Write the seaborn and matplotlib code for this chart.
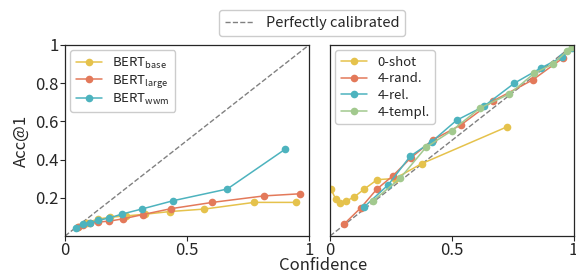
import numpy as np
import pandas as pd
import matplotlib
matplotlib.use("Agg")
import matplotlib.pyplot as plt
from matplotlib.ticker import FuncFormatter
import seaborn as sns

# left panel: model size
base_conf = [0.055, 0.089, 0.137, 0.184, 0.25, 0.328, 0.43, 0.571, 0.775, 0.947]
base_acc = [0.048, 0.07, 0.089, 0.098, 0.105, 0.114, 0.128, 0.141, 0.176, 0.176]
large_conf = [0.055, 0.075, 0.102, 0.137, 0.182, 0.239, 0.318, 0.434, 0.604, 0.816, 0.963]
large_acc = [0.045, 0.058, 0.066, 0.073, 0.078, 0.09, 0.112, 0.143, 0.176, 0.21, 0.221]
wwm_conf = [0.045, 0.072, 0.102, 0.137, 0.18, 0.234, 0.314, 0.444, 0.665, 0.903]
wwm_acc = [0.04, 0.062, 0.07, 0.082, 0.094, 0.115, 0.141, 0.185, 0.246, 0.455]

# right panel: few-shot setting
shot0_conf = [0.004, 0.023, 0.041, 0.066, 0.099, 0.141, 0.194, 0.267, 0.377, 0.726]
shot0_acc = [0.245, 0.195, 0.174, 0.183, 0.204, 0.246, 0.295, 0.301, 0.379, 0.571]
rand_conf = [0.059, 0.127, 0.192, 0.257, 0.333, 0.422, 0.537, 0.67, 0.832, 0.958]
rand_acc = [0.064, 0.148, 0.245, 0.314, 0.41, 0.503, 0.581, 0.707, 0.817, 0.933]
rel_conf = [0.141, 0.24, 0.329, 0.418, 0.52, 0.632, 0.757, 0.867, 0.952, 0.993]
rel_acc = [0.153, 0.269, 0.417, 0.494, 0.606, 0.679, 0.8, 0.88, 0.936, 0.984]
templ_conf = [0.175, 0.288, 0.394, 0.5, 0.616, 0.736, 0.839, 0.917, 0.972, 0.995]
templ_acc = [0.182, 0.302, 0.464, 0.551, 0.67, 0.743, 0.852, 0.901, 0.967, 0.988]

left_labels = [r"BERT$_{\mathrm{base}}$", r"BERT$_{\mathrm{large}}$", r"BERT$_{\mathrm{wwm}}$"]
right_labels = ["0-shot", "4-rand.", "4-rel.", "4-templ."]

yellow = "#e5c24c"
orange = "#e3795a"
teal = "#4db3be"
green = "#a2c98e"


def make_df(confs, accs, labels):
    parts = []
    for c, a, l in zip(confs, accs, labels):
        parts.append(pd.DataFrame({"conf": c, "acc": a, "model": l}))
    return pd.concat(parts, ignore_index=True)


df_left = make_df([base_conf, large_conf, wwm_conf], [base_acc, large_acc, wwm_acc], left_labels)
df_right = make_df([shot0_conf, rand_conf, rel_conf, templ_conf],
                   [shot0_acc, rand_acc, rel_acc, templ_acc], right_labels)

sns.set_style("ticks")
plt.rcParams["font.family"] = ["Noto Sans CJK JP", "DejaVu Sans"]
plt.rcParams["mathtext.fontset"] = "custom"
plt.rcParams["mathtext.rm"] = "Noto Sans CJK JP"
plt.rcParams["mathtext.it"] = "Noto Sans CJK JP"

fig = plt.figure(figsize=(5.76, 2.75), dpi=100)
ax1 = fig.add_axes([65 / 576, 39 / 275, 244 / 576, 191 / 275])
ax2 = fig.add_axes([330 / 576, 39 / 275, 243.5 / 576, 191 / 275])

fmt = FuncFormatter(lambda v, p: "%g" % v)

for ax, df, labels, cols, sp in [(ax1, df_left, left_labels, [yellow, orange, teal], 0.15),
                                 (ax2, df_right, right_labels, [yellow, orange, teal, green], 0.28)]:
    diag, = ax.plot([0, 1], [0, 1], ls="--", color="gray", lw=1, label="Perfectly calibrated")
    sns.lineplot(data=df, x="conf", y="acc", hue="model", hue_order=labels,
                 palette=cols, marker="o", markersize=5.5, markeredgewidth=0,
                 sort=False, lw=1.1, ax=ax, estimator=None)
    ax.set_xlim(0, 1)
    ax.set_ylim(0, 1)
    ax.set_xticks([0, 0.5, 1])
    ax.set_yticks([0.2, 0.4, 0.6, 0.8, 1])
    ax.xaxis.set_major_formatter(fmt)
    ax.yaxis.set_major_formatter(fmt)
    ax.tick_params(labelsize=12, length=3.5, width=0.8, pad=1)
    ax.set_xlabel("")
    ax.set_ylabel("")
    for s in ax.spines.values():
        s.set_linewidth(0.9)
    h, l = ax.get_legend_handles_labels()
    ax.legend(h[1:], l[1:], loc="upper left", fontsize=9.5, handlelength=2.0,
              borderaxespad=0.4, labelspacing=sp, handletextpad=0.8, framealpha=1)

ax2.tick_params(left=False, labelleft=False)
ax1.set_ylabel("Acc@1", fontsize=12, labelpad=4)

fig.legend([diag], ["Perfectly calibrated"], loc="upper center",
           bbox_to_anchor=(312 / 576, 0.99), fontsize=10.5, handlelength=2.0, framealpha=1)
fig.text(323 / 576, 0.005, "Confidence", ha="center", va="bottom", fontsize=12)

fig.savefig("out.png", dpi=100)
